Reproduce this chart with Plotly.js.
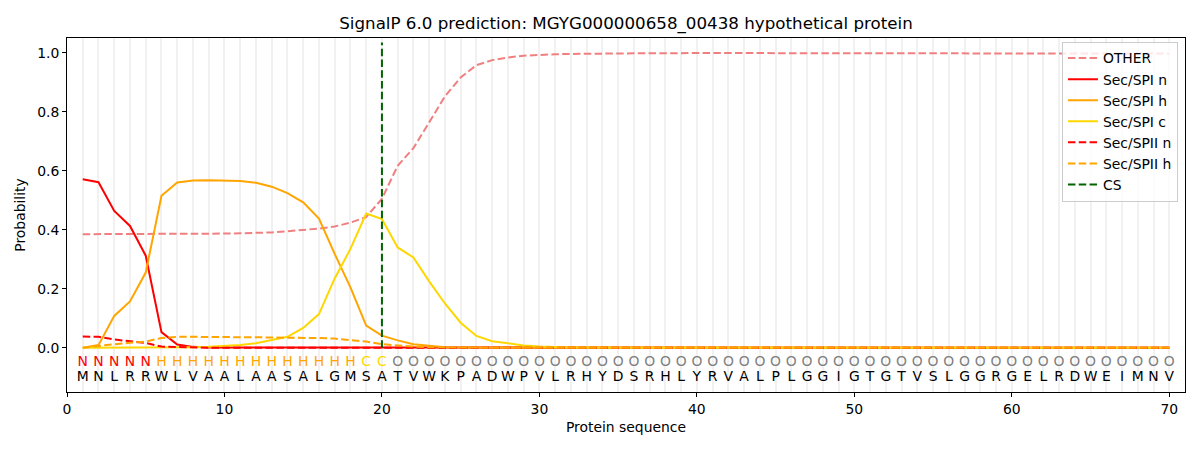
<!DOCTYPE html>
<html>
<head>
<meta charset="utf-8">
<script src="https://cdn.plot.ly/plotly-3.0.1.min.js"></script>
<style>html,body{margin:0;padding:0;background:#fff;}#chart{width:1200px;height:450px;}</style>
</head>
<body>
<div id="chart"></div>
<script>
const positions = [1,2,3,4,5,6,7,8,9,10,11,12,13,14,15,16,17,18,19,20,21,22,23,24,25,26,27,28,29,30,31,32,33,34,35,36,37,38,39,40,41,42,43,44,45,46,47,48,49,50,51,52,53,54,55,56,57,58,59,60,61,62,63,64,65,66,67,68,69,70];
const residues = "MNLRRWLVAALAASALGMSATVWKPADWPVLRHYDSRHLYRVALPLGGIGTGTVSLGGRGELRDWEIMNV".split("");
const regionLabels = "NNNNNHHHHHHHHHHHHHCCOOOOOOOOOOOOOOOOOOOOOOOOOOOOOOOOOOOOOOOOOOOOOOOOOO".split("");
const xTicks = [0,10,20,30,40,50,60,70];
const yTicks = [0,0.2,0.4,0.6,0.8,1.0];
const csPosition = 20;

const other = [0.385,0.385,0.385,0.385,0.385,0.385,0.385,0.386,0.386,0.387,
  0.388,0.389,0.391,0.395,0.399,0.404,0.411,0.424,0.443,0.505,
  0.617,0.677,0.764,0.852,0.916,0.958,0.975,0.984,0.990,0.993,
  0.995,0.996,0.997,0.997,0.998,0.998,0.998,0.999,0.999,0.999,
  0.999,0.999,0.999,0.999,0.999,0.999,0.999,0.999,0.999,0.999,
  0.999,0.999,0.999,0.999,0.999,0.998,0.998,0.998,0.998,0.998,
  0.998,0.997,0.997,0.997,0.997,0.997,0.997,0.997,0.997,0.997];
const spiN = [0.571,0.561,0.464,0.413,0.312,0.053,0.011,0.003,0.001,0.001,
  0,0,0,0,0,0,0,0,0,0, 0,0,0,0,0,0,0,0,0,0, 0,0,0,0,0,0,0,0,0,0,
  0,0,0,0,0,0,0,0,0,0, 0,0,0,0,0,0,0,0,0,0, 0,0,0,0,0,0,0,0,0,0];
const spiH = [0,0.009,0.108,0.157,0.255,0.515,0.560,0.567,0.568,0.567,
  0.565,0.559,0.546,0.524,0.493,0.438,0.318,0.205,0.075,0.041,
  0.025,0.012,0.006,0.002,0.001,0.001,0,0,0,0,
  0,0,0,0,0,0,0,0,0,0, 0,0,0,0,0,0,0,0,0,0, 0,0,0,0,0,0,0,0,0,0, 0,0,0,0,0,0,0,0,0,0];
const spiC = [0,0,0,0,0,0.001,0.001,0.002,0.003,0.005,
  0.009,0.015,0.025,0.037,0.067,0.114,0.235,0.335,0.455,0.436,
  0.340,0.306,0.225,0.150,0.085,0.040,0.022,0.014,0.008,0.004,
  0.002,0.001,0.001,0,0,0,0,0,0,0, 0,0,0,0,0,0,0,0,0,0, 0,0,0,0,0,0,0,0,0,0, 0,0,0,0,0,0,0,0,0,0];
const spiiN = [0.038,0.037,0.028,0.022,0.016,0.004,0.002,0.001,0,0,
  0,0,0,0,0,0,0,0,0,0, 0,0,0,0,0,0,0,0,0,0, 0,0,0,0,0,0,0,0,0,0,
  0,0,0,0,0,0,0,0,0,0, 0,0,0,0,0,0,0,0,0,0, 0,0,0,0,0,0,0,0,0,0];
const spiiH = [0,0.007,0.012,0.017,0.021,0.033,0.037,0.037,0.037,0.037,
  0.036,0.036,0.035,0.034,0.034,0.033,0.031,0.026,0.021,0.012,
  0.007,0.004,0.002,0.001,0,0,0,0,0,0,
  0,0,0,0,0,0,0,0,0,0, 0,0,0,0,0,0,0,0,0,0, 0,0,0,0,0,0,0,0,0,0, 0,0,0,0,0,0,0,0,0,0];

const labelColors = {N:'#ff0000', H:'#ffa500', C:'#ffd700', O:'#808080'};
const dashPat = '7.5px,3.3px';
const font = 'DejaVu Sans, sans-serif';

function line(name, y, color, dash) {
  return {x: positions, y: y, name: name, type: 'scatter', mode: 'lines',
    line: {color: color, width: 2, dash: dash || 'solid'}, hoverinfo: 'skip'};
}

const traces = [
  line('OTHER', other, '#f08080', dashPat),
  line('Sec/SPI n', spiN, '#ff0000'),
  line('Sec/SPI h', spiH, '#ffa500'),
  line('Sec/SPI c', spiC, '#ffd700'),
  line('Sec/SPII n', spiiN, '#ff0000', dashPat),
  line('Sec/SPII h', spiiH, '#ffa500', dashPat),
  {x: [csPosition, csPosition], y: [0, 1.035], name: 'CS', type: 'scatter', mode: 'lines',
    line: {color: '#006400', width: 2, dash: dashPat}, hoverinfo: 'skip'},
  {x: positions, y: positions.map(() => -0.05), text: regionLabels, type: 'scatter', mode: 'text',
    textfont: {family: font, size: 13.9, color: regionLabels.map(l => labelColors[l])},
    showlegend: false, hoverinfo: 'skip'},
  {x: positions, y: positions.map(() => -0.10), text: residues, type: 'scatter', mode: 'text',
    textfont: {family: font, size: 13.9, color: '#000000'},
    showlegend: false, hoverinfo: 'skip'}
];

const layout = {
  width: 1200, height: 450,
  margin: {l: 67, r: 15, t: 38, b: 58},
  paper_bgcolor: '#ffffff', plot_bgcolor: '#ffffff',
  font: {family: font, size: 13.9, color: '#000000'},
  title: {text: 'SignalP 6.0 prediction: MGYG000000658_00438 hypothetical protein',
    font: {family: font, size: 16.7, color: '#000000'},
    x: 0.5, xref: 'paper', xanchor: 'center', y: 0.949, yref: 'container', yanchor: 'middle'},
  xaxis: {range: [0, 71], tickvals: xTicks, ticktext: xTicks.map(String),
    ticks: 'outside', ticklen: 4, tickcolor: '#000', showline: true, mirror: true,
    linecolor: '#000', linewidth: 1, showgrid: false, zeroline: false,
    minor: {dtick: 1, tick0: 0, showgrid: true, gridcolor: '#f1f1f1', gridwidth: 2, ticks: ''},
    title: {text: 'Protein sequence', font: {family: font, size: 13.9}, standoff: 6}},
  yaxis: {range: [-0.15, 1.05], tickvals: yTicks, ticktext: yTicks.map(v => v.toFixed(1)),
    ticks: 'outside', ticklen: 4, tickcolor: '#000', showline: true, mirror: true,
    linecolor: '#000', linewidth: 1, showgrid: false, zeroline: false,
    title: {text: 'Probability', font: {family: font, size: 13.9}, standoff: 8}},
  legend: {x: 0.9937, xanchor: 'right', y: 0.99, yanchor: 'top',
    bgcolor: 'rgba(255,255,255,0.8)', bordercolor: '#cccccc', borderwidth: 1,
    font: {family: font, size: 13.9}, tracegroupgap: 0},
  showlegend: true
};

Plotly.newPlot('chart', traces, layout, {staticPlot: true, displayModeBar: false});
</script>
</body>
</html>
